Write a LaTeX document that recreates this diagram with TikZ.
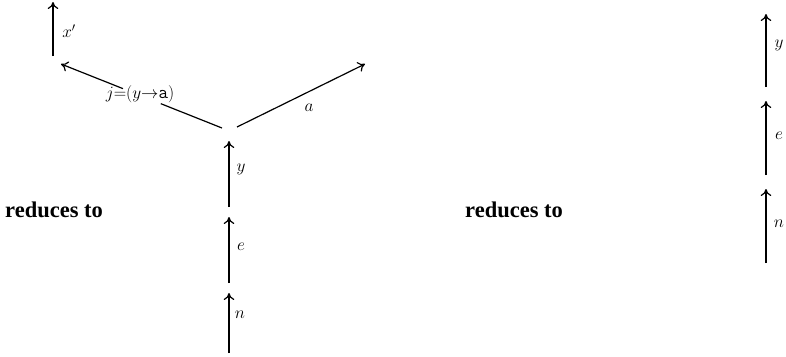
\documentclass[tikz,border=0pt]{standalone}
\usepackage{fontspec}
\newfontfamily\tnr{Liberation Serif}
\usetikzlibrary{arrows.meta,calc}
\begin{document}
\begin{tikzpicture}[x=1pt,y=-1pt,
  arr/.style={line width=1.2pt,-{To[length=7pt,width=10.5pt]}},
  seg/.style={line width=1.2pt},
  lab/.style={font=\fontsize{17}{19}\selectfont,inner sep=0pt},
  red/.style={font=\fontsize{22.5}{25}\selectfont\tnr\bfseries,inner sep=0pt,anchor=west}]
\useasboundingbox (0,0) rectangle (786,356);
% left figure
\coordinate (xb) at (53,56); \coordinate (xt) at (53,2);
\coordinate (jb) at (222,128); \coordinate (jt) at (61,64);
\coordinate (g1) at ($(jb)!0.38!(jt)$);
\coordinate (g2) at ($(jb)!0.615!(jt)$);
\coordinate (ab) at (237,127); \coordinate (at) at (365,64);
\coordinate (yb) at (229,207); \coordinate (yt) at (229,141);
\coordinate (eb) at (229,283); \coordinate (et) at (229,217);
\coordinate (nb) at (229,353); \coordinate (nt) at (229,293);
\draw[arr] (xb) -- (xt);
\node[lab] (lx) at (69,31) {$x'$};
\draw[seg] (jb) -- (g1);
\draw[arr] (g2) -- (jt);
\node[lab,font=\fontsize{18.5}{20}\selectfont] (lj) at (140,94.5) {$j{=}(y{\to}\mathtt{a})$};
\draw[arr] (ab) -- (at);
\node[lab] (la) at (309,108) {$a$};
\draw[arr] (yb) -- (yt);
\node[lab] (ly) at (241,169) {$y$};
\draw[arr] (eb) -- (et);
\node[lab] (le) at (241,247) {$e$};
\draw[arr] (nb) -- (nt);
\node[lab] (ln) at (240,315) {$n$};
\node[red] (r1) at (5,210) {reduces to};
\node[red] (r2) at (465,210) {reduces to};
% right figure
\coordinate (ryb) at (766,87); \coordinate (ryt) at (766,14);
\coordinate (reb) at (766,175); \coordinate (ret) at (766,101);
\coordinate (rnb) at (766,263); \coordinate (rnt) at (766,189);
\draw[arr] (ryb) -- (ryt);
\node[lab] (rly) at (779,45) {$y$};
\draw[arr] (reb) -- (ret);
\node[lab] (rle) at (779,136) {$e$};
\draw[arr] (rnb) -- (rnt);
\node[lab] (rln) at (779,224) {$n$};
\end{tikzpicture}
\end{document}
